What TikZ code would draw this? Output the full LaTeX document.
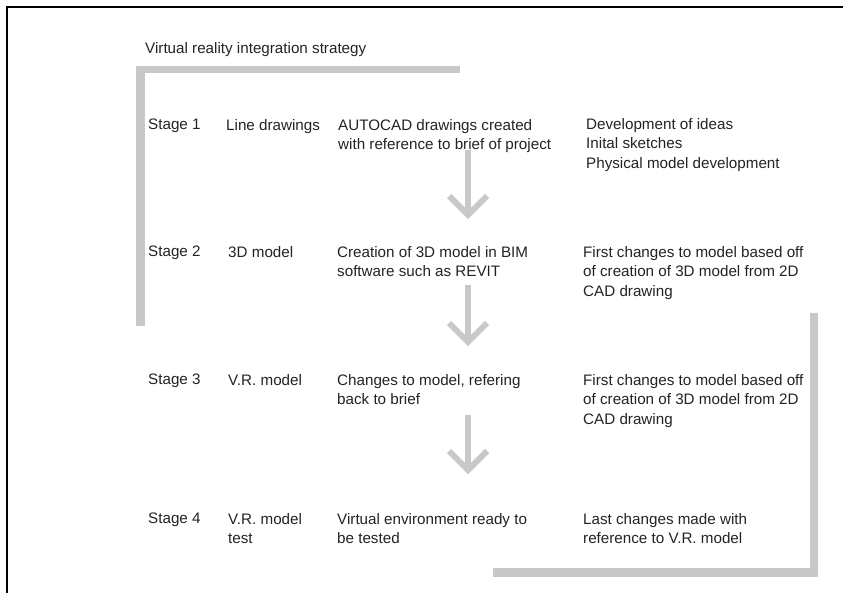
\documentclass[tikz,border=0pt]{standalone}
\usepackage{fontspec}
\setmainfont{Liberation Sans}
\usetikzlibrary{calc}
\definecolor{bargray}{RGB}{200,200,200}
\definecolor{txt}{RGB}{35,35,35}
\begin{document}
\begin{tikzpicture}[x=1pt,y=-1pt,
  lbl/.style={anchor=north west,inner sep=0pt,align=left,text=txt,
    font=\fontsize{15.2}{19.6}\selectfont},
  bar/.style={fill=bargray,draw=none},
  shaft/.style={draw=bargray,line width=6pt},
  chev/.style={draw=bargray,line width=6pt,line join=miter}]
\useasboundingbox (0,0) rectangle (843,593);
% black frame
\draw[line width=1.6pt,black] (7,593) -- (7,7) -- (843,7);
% title (north west at baseline - 11)
\node[lbl] (title) at (145,42) {Virtual reality integration strategy};
% gray brackets
\fill[bar] (136,66) rectangle (460,73);
\fill[bar] (136,66) rectangle (145,326);
\fill[bar] (810,313) rectangle (818,577);
\fill[bar] (493,568) rectangle (818,577);
% stage 1
\node[lbl] (s1) at (148,119) {Stage 1};
\node[lbl] (n1) at (226,119) {Line drawings};
\node[lbl] (c1) at (338,119) {AUTOCAD drawings created\\with reference to brief of project};
\node[lbl] (r1) at (586,118) {Development of ideas\\Inital sketches\\Physical model development};
% stage 2
\node[lbl] (s2) at (148,246) {Stage 2};
\node[lbl] (n2) at (228,246) {3D model};
\node[lbl] (c2) at (337,246) {Creation of 3D model in BIM\\software such as REVIT};
\node[lbl] (r2) at (583,246) {First changes to model based off\\of creation of 3D model from 2D\\CAD drawing};
% stage 3
\node[lbl] (s3) at (148,374) {Stage 3};
\node[lbl] (n3) at (228,374) {V.R. model};
\node[lbl] (c3) at (337,374) {Changes to model, refering\\back to brief};
\node[lbl] (r3) at (583,374) {First changes to model based off\\of creation of 3D model from 2D\\CAD drawing};
% stage 4
\node[lbl] (s4) at (148,513) {Stage 4};
\node[lbl] (n4) at (228,513) {V.R. model\\test};
\node[lbl] (c4) at (337,513) {Virtual environment ready to\\be tested};
\node[lbl] (r4) at (583,513) {Last changes made with\\reference to V.R. model};
% arrows
\coordinate (a1s) at (468,150); \coordinate (a1e) at (468,216);
\coordinate (a2s) at (468,285); \coordinate (a2e) at (468,343);
\coordinate (a3s) at (468,415); \coordinate (a3e) at (468,471);
\foreach \s/\e in {a1s/a1e,a2s/a2e,a3s/a3e}{
  \draw[shaft] (\s) -- ($(\e)+(0,-4)$);
  \draw[chev] ($(\e)+(-19,-20)$) -- ($(\e)+(0,-1)$) -- ($(\e)+(19,-20)$);
}
\end{tikzpicture}
\end{document}
